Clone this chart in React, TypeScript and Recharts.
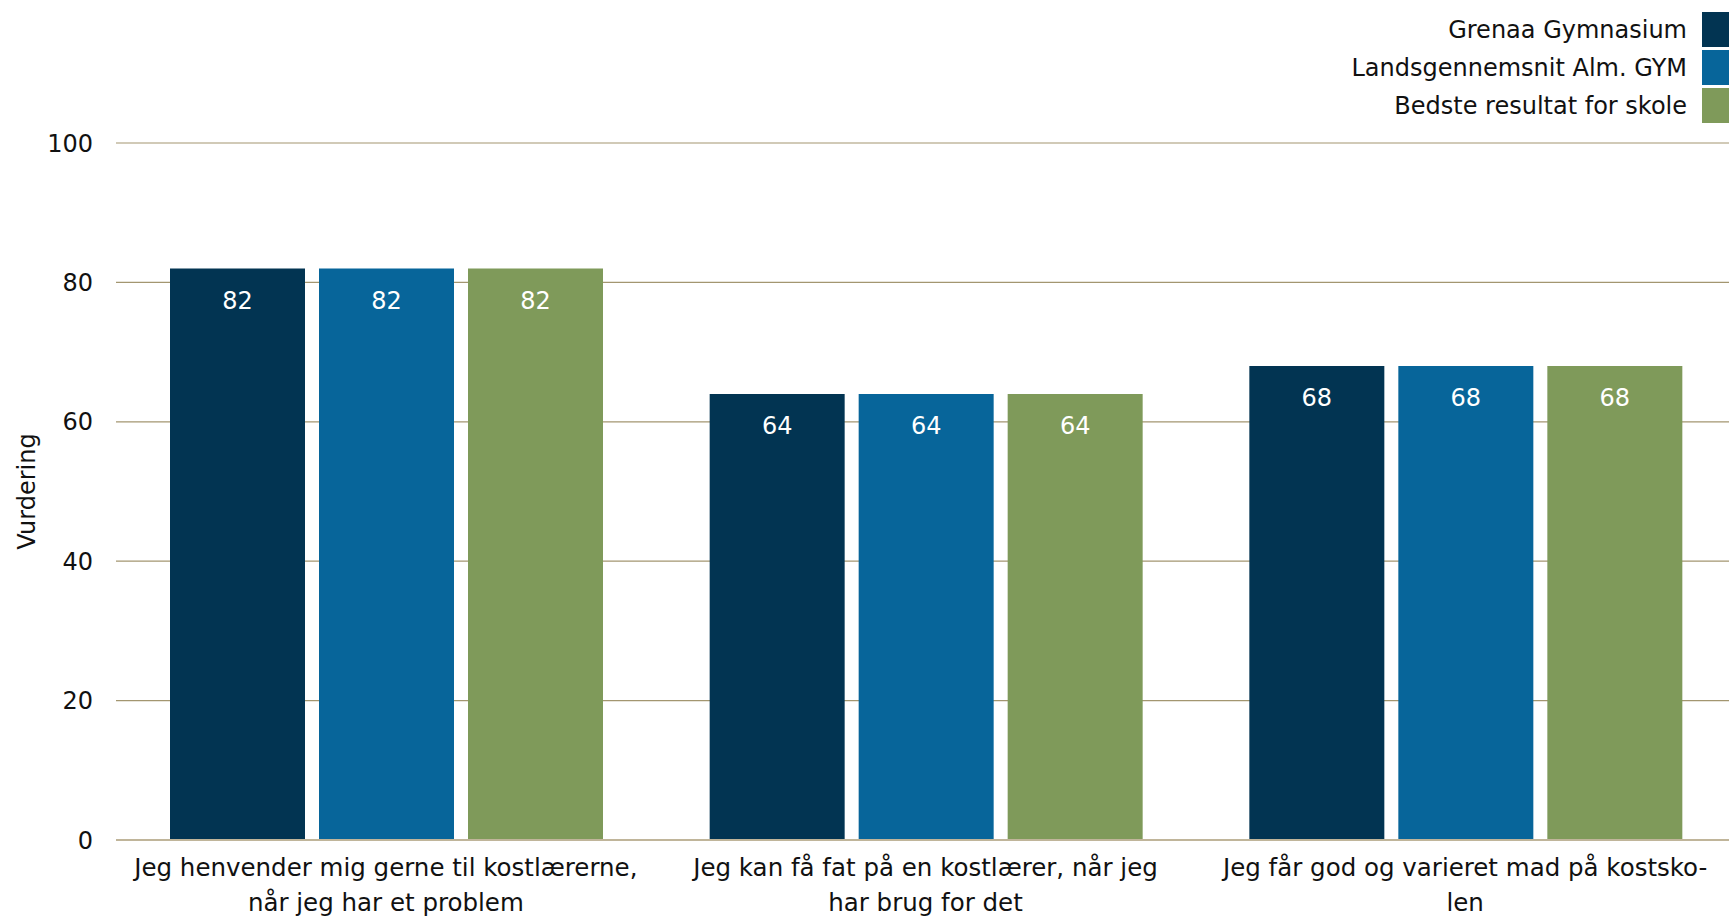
import React from "react";
import {
  BarChart,
  Bar,
  XAxis,
  YAxis,
  CartesianGrid,
  LabelList,
} from "recharts";

const categories = [
  "Jeg henvender mig gerne til kostlærerne,\nnår jeg har et problem",
  "Jeg kan få fat på en kostlærer, når jeg\nhar brug for det",
  "Jeg får god og varieret mad på kostsko-\nlen",
];
const grenaa = [82, 64, 68];
const landsgennemsnit = [82, 64, 68];
const bedste = [82, 64, 68];
const yTicks = [0, 20, 40, 60, 80, 100];

const series = [
  { key: "grenaa", name: "Grenaa Gymnasium", color: "#023452" },
  { key: "lands", name: "Landsgennemsnit Alm. GYM", color: "#07659a" },
  { key: "bedste", name: "Bedste resultat for skole", color: "#7f9a5a" },
];

const data = categories.map((label, i) => ({
  label,
  grenaa: grenaa[i],
  lands: landsgennemsnit[i],
  bedste: bedste[i],
}));

const FONT = "'DejaVu Sans', sans-serif";
const TEXT = "#111";

function CategoryTick(props: any) {
  const { x, y, payload } = props;
  const lines = String(payload.value).split("\n");
  return (
    <g transform={`translate(${x},${y})`}>
      {lines.map((line, i) => (
        <text
          key={i}
          x={0}
          y={36 + i * 35}
          textAnchor="middle"
          fill={TEXT}
          fontSize={24.5}
          fontFamily={FONT}
        >
          {line}
        </text>
      ))}
    </g>
  );
}

function SideLegend() {
  return (
    <div
      style={{
        position: "absolute",
        top: 12,
        right: 0,
        fontFamily: FONT,
        fontSize: 24,
        color: TEXT,
      }}
    >
      {series.map((s) => (
        <div
          key={s.key}
          style={{
            display: "flex",
            alignItems: "center",
            justifyContent: "flex-end",
            height: 35,
            marginBottom: 3,
          }}
        >
          <span style={{ marginRight: 15 }}>{s.name}</span>
          <span
            style={{
              display: "inline-block",
              width: 27,
              height: 35,
              background: s.color,
            }}
          />
        </div>
      ))}
    </div>
  );
}

export default function App() {
  return (
    <div
      style={{
        position: "fixed",
        top: 0,
        left: 0,
        width: 1729,
        height: 920,
        background: "#fff",
        overflow: "hidden",
      }}
    >
      <BarChart
        width={1735}
        height={920}
        data={data}
        margin={{ top: 143, right: 0, bottom: 0, left: 0 }}
        barCategoryGap={54}
        barGap={14}
      >
        <CartesianGrid
          vertical={false}
          stroke="#a39670"
          strokeWidth={1.2}
        />
        <XAxis
          dataKey="label"
          height={80}
          axisLine={{ stroke: "#c0b59a", strokeWidth: 2 }}
          tickLine={false}
          tickSize={0}
          tickMargin={0}
          interval={0}
          tick={<CategoryTick />}
        />
        <YAxis
          width={116}
          domain={[0, 100]}
          ticks={yTicks}
          axisLine={false}
          tickLine={false}
          tickSize={0}
          tickMargin={23}
          tick={{ fill: TEXT, fontSize: 24, fontFamily: FONT }}
          label={{
            value: "Vurdering",
            angle: -90,
            position: "center",
            dx: -32,
            fill: TEXT,
            fontSize: 24,
            fontFamily: FONT,
          }}
        />
        {series.map((s) => (
          <Bar
            key={s.key}
            dataKey={s.key}
            name={s.name}
            fill={s.color}
            isAnimationActive={false}
          >
            <LabelList
              dataKey={s.key}
              position="insideTop"
              offset={23}
              fill="#fff"
              fontSize={24}
              fontFamily={FONT}
            />
          </Bar>
        ))}
      </BarChart>
      <SideLegend />
    </div>
  );
}
